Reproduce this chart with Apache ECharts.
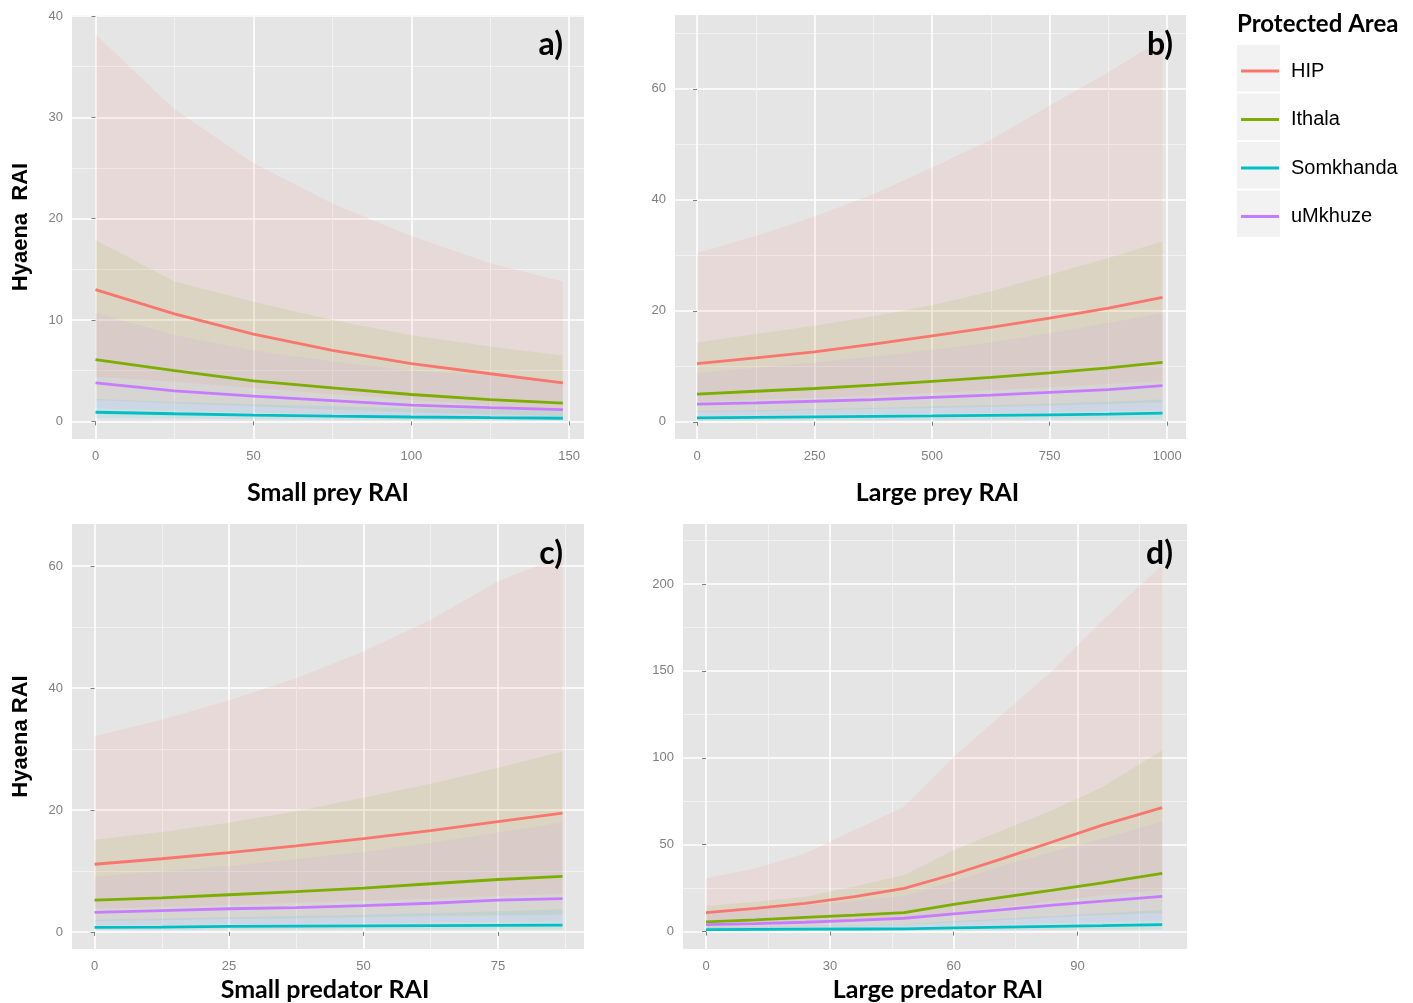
<!DOCTYPE html>
<html>
<head>
<meta charset="utf-8">
<script src="https://cdn.jsdelivr.net/npm/echarts@6/dist/echarts.min.js"></script>
<style>
  html, body { margin: 0; padding: 0; background: #fff; }
  #chart { width: 1413px; height: 1003px; }
</style>
</head>
<body>
<div id="chart"></div>
<script>
// protected areas (legend order)
const areas = ['HIP', 'Ithala', 'Somkhanda', 'uMkhuze']

// a) small prey RAI
const a_x = [0, 25, 50, 75, 100, 125, 148]
const a_HIP = [13.0, 10.6, 8.6, 7.0, 5.7, 4.7, 3.8]
const a_HIP_lo = [4.4, 3.9, 3.3, 2.7, 2.1, 1.6, 1.05]
const a_HIP_hi = [38.2, 30.8, 25.5, 21.5, 18.3, 15.6, 13.8]
const a_Ithala = [6.1, 5.0, 4.0, 3.3, 2.65, 2.15, 1.8]
const a_Ithala_lo = [2.1, 1.8, 1.5, 1.15, 0.9, 0.7, 0.5]
const a_Ithala_hi = [17.9, 13.8, 11.8, 10.0, 8.5, 7.4, 6.5]
const a_Somkhanda = [0.9, 0.75, 0.62, 0.52, 0.43, 0.36, 0.31]
const a_Somkhanda_lo = [0.3, 0.25, 0.2, 0.17, 0.13, 0.1, 0.08]
const a_Somkhanda_hi = [2.2, 1.9, 1.7, 1.5, 1.3, 1.2, 1.1]
const a_uMkhuze = [3.8, 3.0, 2.5, 2.05, 1.6, 1.35, 1.15]
const a_uMkhuze_lo = [1.3, 1.1, 0.9, 0.7, 0.55, 0.45, 0.35]
const a_uMkhuze_hi = [10.7, 8.5, 7.0, 5.9, 5.0, 4.5, 4.0]

// b) large prey RAI
const b_x = [0, 125, 250, 375, 500, 625, 750, 875, 990]
const b_HIP = [10.5, 11.5, 12.6, 14.0, 15.5, 17.0, 18.7, 20.5, 22.4]
const b_HIP_lo = [3.6, 4.0, 4.3, 4.8, 5.2, 5.7, 6.2, 6.8, 7.3]
const b_HIP_hi = [30.4, 33.5, 37.0, 41.0, 45.8, 50.8, 57.0, 63.0, 69.0]
const b_Ithala = [5.0, 5.5, 6.0, 6.6, 7.3, 8.0, 8.8, 9.7, 10.7]
const b_Ithala_lo = [1.75, 1.9, 2.1, 2.3, 2.5, 2.7, 2.9, 3.2, 3.5]
const b_Ithala_hi = [14.3, 15.8, 17.3, 19.0, 21.0, 23.5, 26.5, 29.5, 32.5]
const b_Somkhanda = [0.72, 0.8, 0.88, 0.96, 1.05, 1.15, 1.26, 1.38, 1.55]
const b_Somkhanda_lo = [0.22, 0.24, 0.26, 0.28, 0.3, 0.32, 0.35, 0.38, 0.42]
const b_Somkhanda_hi = [1.9, 2.1, 2.3, 2.5, 2.8, 3.0, 3.3, 3.6, 4.0]
const b_uMkhuze = [3.2, 3.4, 3.7, 4.0, 4.4, 4.8, 5.3, 5.8, 6.5]
const b_uMkhuze_lo = [1.1, 1.2, 1.3, 1.4, 1.5, 1.6, 1.75, 1.9, 2.1]
const b_uMkhuze_hi = [8.8, 9.7, 10.7, 11.7, 13.0, 14.3, 16.0, 17.8, 19.6]

// c) small predator RAI
const c_x = [0, 12.5, 25, 37.5, 50, 62.5, 75, 87]
const c_HIP = [11.1, 12.0, 13.0, 14.1, 15.3, 16.6, 18.1, 19.5]
const c_HIP_lo = [3.8, 4.1, 4.4, 4.8, 5.1, 5.5, 5.9, 6.2]
const c_HIP_hi = [32.1, 34.8, 38.0, 41.6, 46.0, 51.2, 57.5, 61.6]
const c_Ithala = [5.2, 5.6, 6.1, 6.6, 7.2, 7.9, 8.6, 9.1]
const c_Ithala_lo = [1.8, 1.9, 2.1, 2.2, 2.4, 2.6, 2.7, 2.8]
const c_Ithala_hi = [15.1, 16.4, 17.9, 19.8, 22.0, 24.3, 26.9, 29.6]
const c_Somkhanda = [0.75, 0.8, 0.9, 0.95, 1.0, 1.03, 1.06, 1.1]
const c_Somkhanda_lo = [0.3, 0.3, 0.35, 0.35, 0.4, 0.4, 0.4, 0.4]
const c_Somkhanda_hi = [2.0, 2.2, 2.4, 2.6, 2.8, 3.1, 3.4, 3.7]
const c_uMkhuze = [3.2, 3.5, 3.8, 4.0, 4.3, 4.7, 5.2, 5.45]
const c_uMkhuze_lo = [1.1, 1.2, 1.3, 1.35, 1.45, 1.55, 1.65, 1.7]
const c_uMkhuze_hi = [9.1, 9.9, 10.8, 11.9, 13.1, 14.6, 16.3, 17.9]

// d) large predator RAI
const d_x = [0, 12, 24, 36, 48, 60, 72, 84, 96, 110.5]
const d_HIP = [10.9, 13.4, 16.3, 20.1, 24.9, 33.0, 42.1, 51.7, 61.3, 71.3]
const d_HIP_lo = [3.9, 4.9, 5.9, 6.9, 8.6, 10.8, 14.0, 17.5, 20.8, 24.0]
const d_HIP_hi = [30.7, 36.4, 45.0, 58.4, 71.8, 100.6, 125.5, 150.4, 179.0, 211.0]
const d_Ithala = [5.6, 6.7, 8.2, 9.5, 10.9, 15.7, 19.8, 23.9, 28.0, 33.5]
const d_Ithala_lo = [2.0, 2.4, 2.9, 3.4, 3.9, 5.3, 6.7, 8.2, 9.6, 10.7]
const d_Ithala_hi = [14.8, 17.2, 20.1, 26.0, 32.6, 46.9, 58.5, 69.9, 83.0, 104.4]
const d_Somkhanda = [1.2, 1.3, 1.4, 1.5, 1.6, 2.2, 2.6, 3.0, 3.4, 4.0]
const d_Somkhanda_lo = [0.3, 0.35, 0.4, 0.45, 0.5, 0.6, 0.8, 0.95, 1.1, 1.2]
const d_Somkhanda_hi = [2.6, 3.0, 3.4, 3.8, 4.2, 6.0, 7.5, 9.0, 10.6, 12.5]
const d_uMkhuze = [4.0, 4.6, 5.4, 6.5, 7.7, 10.2, 12.7, 15.3, 17.5, 20.3]
const d_uMkhuze_lo = [1.3, 1.6, 1.9, 2.3, 2.7, 3.5, 4.2, 5.0, 5.7, 6.4]
const d_uMkhuze_hi = [10.8, 12.6, 15.0, 17.8, 20.5, 29.0, 38.0, 46.0, 53.5, 63.2]

// tick labels
const a_xticks = [0, 50, 100, 150]
const a_yticks = [0, 10, 20, 30, 40]
const b_xticks = [0, 250, 500, 750, 1000]
const b_yticks = [0, 20, 40, 60]
const c_xticks = [0, 25, 50, 75]
const c_yticks = [0, 20, 40, 60]
const d_xticks = [0, 30, 60, 90]
const d_yticks = [0, 50, 100, 150, 200]

const colors = { HIP: '#F8766D', Ithala: '#7CAE00', Somkhanda: '#00BFC4', uMkhuze: '#C77CFF' }
const bandFill = {
  HIP: 'rgba(248,118,109,0.1)',
  Ithala: 'rgba(124,174,0,0.1)',
  Somkhanda: 'rgba(0,191,196,0.1)',
  uMkhuze: 'rgba(199,124,255,0.1)'
}

const panels = [
  { x: a_x, fit: [a_HIP, a_Ithala, a_Somkhanda, a_uMkhuze], lo: [a_HIP_lo, a_Ithala_lo, a_Somkhanda_lo, a_uMkhuze_lo], hi: [a_HIP_hi, a_Ithala_hi, a_Somkhanda_hi, a_uMkhuze_hi] },
  { x: b_x, fit: [b_HIP, b_Ithala, b_Somkhanda, b_uMkhuze], lo: [b_HIP_lo, b_Ithala_lo, b_Somkhanda_lo, b_uMkhuze_lo], hi: [b_HIP_hi, b_Ithala_hi, b_Somkhanda_hi, b_uMkhuze_hi] },
  { x: c_x, fit: [c_HIP, c_Ithala, c_Somkhanda, c_uMkhuze], lo: [c_HIP_lo, c_Ithala_lo, c_Somkhanda_lo, c_uMkhuze_lo], hi: [c_HIP_hi, c_Ithala_hi, c_Somkhanda_hi, c_uMkhuze_hi] },
  { x: d_x, fit: [d_HIP, d_Ithala, d_Somkhanda, d_uMkhuze], lo: [d_HIP_lo, d_Ithala_lo, d_Somkhanda_lo, d_uMkhuze_lo], hi: [d_HIP_hi, d_Ithala_hi, d_Somkhanda_hi, d_uMkhuze_hi] }
]

const tickColor = '#7f7f7f'
const titleFont = 'Lato, "Open Sans", sans-serif'

const makeAxis = (idx, min, max, ticks, margin, opts) => {
  const step = ticks[1] - ticks[0]
  return Object.assign({
    type: 'value',
    gridIndex: idx,
    min: min,
    max: max,
    minInterval: step,
    maxInterval: step,
    axisLine: { show: false },
    axisTick: { show: true, length: 4, customValues: ticks, lineStyle: { color: tickColor, width: 1 } },
    axisLabel: {
      customValues: ticks,
      color: tickColor,
      fontSize: 13,
      fontFamily: '"Liberation Sans", Arial, sans-serif',
      margin: margin,
      formatter: (v) => (ticks.indexOf(v) >= 0 ? String(v) : '')
    },
    splitLine: { show: true, lineStyle: { color: '#ffffff', width: 1.6 } },
    minorTick: { show: false, splitNumber: 2 },
    minorSplitLine: { show: true, lineStyle: { color: '#f2f2f2', width: 1 } }
  }, opts || {})
}

const xName = (name, gap, pad) => ({
  name: name,
  nameLocation: 'middle',
  nameGap: gap,
  nameTextStyle: { fontFamily: titleFont, fontWeight: 'bold', fontSize: 25, color: '#000', padding: pad || 0 }
})
const yName = (name) => ({
  name: name,
  nameLocation: 'middle',
  nameRotate: 90,
  nameGap: 40,
  nameTextStyle: { fontFamily: '"Liberation Sans", Arial, sans-serif', fontWeight: 'bold', fontSize: 22, color: '#000' }
})

const grids = [
  { left: 72, top: 15, width: 512, height: 424 },
  { left: 675, top: 15, width: 511, height: 424 },
  { left: 72, top: 524, width: 512, height: 425 },
  { left: 683, top: 524, width: 504, height: 425 }
].map((g) => Object.assign(g, { show: true, backgroundColor: '#e5e5e5', borderWidth: 0 }))

const xAxes = [
  makeAxis(0, -7.44, 154.7, a_xticks, 11, xName('Small prey RAI', 41)),
  makeAxis(1, -46.8, 1040, b_xticks, 11, xName('Large prey RAI', 41, [0, 0, 0, 14])),
  makeAxis(2, -4.19, 91.0, c_xticks, 11, xName('Small predator RAI', 28, [0, 6, 0, 0])),
  makeAxis(3, -5.58, 116.5, d_xticks, 11, xName('Large predator RAI', 28, [0, 0, 0, 6]))
]
const yAxes = [
  makeAxis(0, -1.74, 40.1, a_yticks, 9, yName('Hyaena  RAI')),
  makeAxis(1, -3.1, 73.3, b_yticks, 9),
  makeAxis(2, -2.8, 66.9, c_yticks, 9, yName('Hyaena RAI')),
  makeAxis(3, -10, 234.5, d_yticks, 9)
]

const series = []
panels.forEach((p, pi) => {
  areas.forEach((name, si) => {
    const xs = p.x, lo = p.lo[si], hi = p.hi[si]
    series.push({
      type: 'custom',
      name: name + ' CI',
      xAxisIndex: pi,
      yAxisIndex: pi,
      silent: true,
      clip: true,
      z: 2,
      data: xs.map((x, i) => [x, lo[i], hi[i]]),
      encode: { x: 0, y: [1, 2] },
      renderItem: (params, api) => {
        if (params.dataIndex !== 0) return
        const pts = []
        xs.forEach((x, i) => pts.push(api.coord([x, hi[i]])))
        for (let i = xs.length - 1; i >= 0; i--) pts.push(api.coord([xs[i], lo[i]]))
        return { type: 'polygon', shape: { points: pts }, style: { fill: bandFill[name], stroke: null } }
      }
    })
  })
  areas.forEach((name, si) => {
    series.push({
      type: 'line',
      name: name,
      xAxisIndex: pi,
      yAxisIndex: pi,
      z: 3,
      silent: true,
      showSymbol: false,
      data: p.x.map((x, i) => [x, p.fit[si][i]]),
      lineStyle: { color: colors[name], width: 2.8 },
      itemStyle: { color: colors[name] }
    })
  })
})

const panelLabel = (txt, x, y) => ({
  type: 'text',
  right: 1413 - x,
  top: y,
  z: 100,
  style: { text: txt, fontFamily: titleFont, fontWeight: 'bold', fontSize: 32, fill: '#000' }
})

const keyBox = (i) => ({
  type: 'rect',
  shape: { x: 1237, y: 45 + i * 48.5, width: 43, height: 46.5 },
  style: { fill: '#f2f2f2' },
  z: 0
})

const chart = echarts.init(document.getElementById('chart'))
chart.setOption({
  animation: false,
  backgroundColor: '#ffffff',
  grid: grids,
  xAxis: xAxes,
  yAxis: yAxes,
  legend: {
    data: areas,
    orient: 'vertical',
    left: 1241,
    top: 47,
    padding: 0,
    icon: 'rect',
    itemWidth: 38,
    itemHeight: 3,
    itemGap: 0.5,
    selectedMode: false,
    textStyle: { fontFamily: '"Liberation Sans", Arial, sans-serif', fontSize: 20, color: '#000', lineHeight: 48, padding: [0, 0, 0, 7] }
  },
  graphic: [
    keyBox(0), keyBox(1), keyBox(2), keyBox(3),
    {
      type: 'text',
      left: 1237,
      top: 12,
      z: 100,
      style: { text: 'Protected Area', fontFamily: titleFont, fontWeight: 'bold', fontSize: 24, fill: '#000' }
    },
    panelLabel('a)', 563, 29),
    panelLabel('b)', 1173, 29),
    panelLabel('c)', 563, 538),
    panelLabel('d)', 1173, 538)
  ],
  series: series
})
</script>
</body>
</html>
